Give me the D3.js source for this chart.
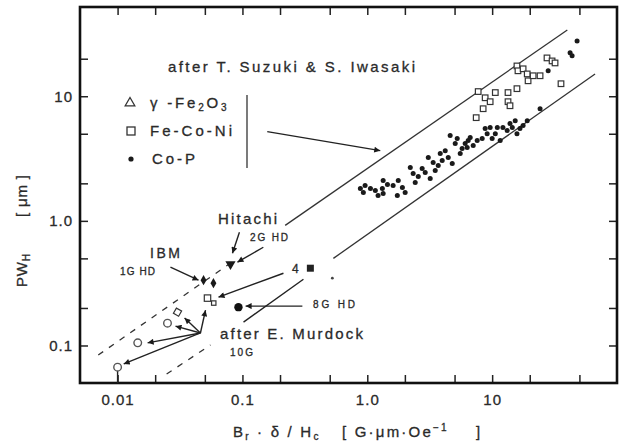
<!DOCTYPE html>
<html>
<head>
<meta charset="utf-8">
<script src="https://cdn.jsdelivr.net/npm/d3@7"></script>
<style>
    body { margin: 0; background: #fff; }
    text { font-family: "Liberation Sans", Arial, sans-serif; fill: #2a2a2a; stroke: #2a2a2a; stroke-width: 0.3; }
</style>
</head>
<body>
<svg id="chart" width="626" height="444"></svg>
<script>

// ticks and tick labels (log axes, both in the same units as the data)
const xTicks = [0.01, 0.02, 0.05, 0.1, 0.2, 0.5, 1, 2, 5, 10, 20, 50];
const xLabelValues = [0.01, 0.1, 1, 10];
const xLabelTexts = ['0.01', '0.1', '1.0', '10'];
const yTicks = [0.1, 0.2, 0.5, 1, 2, 5, 10, 20];
const yLabelValues = [0.1, 1, 10];
const yLabelTexts = ['0.1', '1.0', '10'];

// legend categories (after T. Suzuki & S. Iwasaki)
const categories = ['γ-Fe2O3', 'Fe-Co-Ni', 'Co-P'];

// [Br·δ/Hc, PW_H]
const coP = [
    [0.88, 1.82], [0.93, 1.69], [1.06, 1.82], [1.16, 1.75], [1.32, 1.82], [1.34, 2.11],
    [1.34, 1.66], [1.61, 1.92], [1.77, 2.11], [1.74, 1.60], [1.91, 1.85], [2.21, 2.68],
    [2.33, 2.40], [2.42, 2.03], [2.75, 2.63], [2.91, 2.44], [3.19, 2.19], [3.08, 3.22],
    [3.37, 2.94], [3.70, 2.78], [3.84, 3.47], [3.98, 3.05], [4.45, 3.22], [4.79, 2.88],
    [4.61, 4.83], [5.06, 4.17], [5.25, 4.57], [5.55, 3.47], [6.08, 4.17], [6.43, 4.41],
    [6.31, 3.87], [6.67, 4.66], [7.59, 4.41], [8.32, 4.57], [9.12, 5.01], [9.64, 5.60],
    [10.0, 4.57], [11.0, 5.60], [11.6, 4.41], [12.2, 5.60], [13.9, 6.03], [15.3, 6.37],
    [16.7, 5.50], [19.1, 6.37], [24.2, 7.94], [28.1, 16.0], [42.1, 22.3], [47.9, 27.8],
    [0.96, 1.92], [1.22, 1.60], [1.45, 1.96], [2.01, 1.69], [2.56, 2.27], [3.50, 2.54],
    [4.21, 3.66], [5.75, 3.80], [7.05, 4.02], [8.79, 5.50], [10.6, 5.01], [13.2, 5.30],
    [14.5, 5.60], [15.8, 5.01], [17.7, 5.81], [43.7, 21.1]
];
const feCoNi = [
    [7.73, 10.9], [8.79, 9.72], [9.64, 9.04], [8.47, 7.94], [10.6, 10.7], [13.4, 10.7],
    [15.8, 11.5], [13.4, 9.04], [13.9, 8.39], [15.8, 17.5], [16.1, 16.0], [17.7, 16.6],
    [19.1, 15.1], [19.4, 13.3], [21.3, 14.6], [24.2, 14.6], [27.5, 20.3], [30.2, 19.2],
    [31.9, 18.5], [35.6, 12.6], [7.45, 6.73]
];

// heads (after E. Murdock)
const ibm1G = [[0.0488, 0.334], [0.0586, 0.316]];
const hitachi2G = [[0.0802, 0.449]];
const head4 = [[0.35, 0.417]];
const head8G = [[0.0929, 0.203]];
const openSquares = [[0.0525, 0.24], [0.0589, 0.219]];
const openDiamonds = [[0.0302, 0.185]];
const openCircles = [[0.0251, 0.151], [0.0145, 0.105], [0.01, 0.067]];
const strayDots = [[0.525, 0.347]];

// band lines
const bandUpper = [[0.22, 0.92], [40, 34]];
const bandLower = [[0.535, 0.5], [66.7, 15.1]];
const dashUpper = [[0.007, 0.0838], [0.085, 0.477]];
const dashLower = [[0.0247, 0.059], [0.0555, 0.101]];

// arrows [from, to]
const fanFrom = [0.0461, 0.126];
const fanTo = [[0.0506, 0.192], [0.0344, 0.166], [0.0291, 0.143], [0.0174, 0.105], [0.0112, 0.0711]];
const arrows = [
    [[0.158, 5.2], [1.27, 3.66]],
    [[0.0946, 0.809], [0.0832, 0.55]],
    [[0.147, 0.614], [0.0912, 0.466]],
    [[0.0265, 0.425], [0.0445, 0.334]],
    [[0.213, 0.38], [0.0643, 0.244]],
    [[0.302, 0.207], [0.106, 0.207]]
];
const leader = [[0.308, 0.34], [0.102, 0.154]];


const svg = d3.select('#chart');
const frame = {left: 80, right: 617, top: 7, bottom: 383};

const x = d3.scaleLog().domain([0.005, 100]).range([frame.left, frame.right]);
const y = d3.scaleLog().domain([0.05, 52]).range([frame.bottom, frame.top]);
const line = d3.line().x(d => x(d[0])).y(d => y(d[1]));

svg.append('defs').append('marker')
    .attr('id', 'head')
    .attr('viewBox', '0 0 10 10')
    .attr('refX', 10).attr('refY', 5)
    .attr('markerWidth', 10).attr('markerHeight', 6)
    .attr('markerUnits', 'userSpaceOnUse')
    .attr('orient', 'auto')
    .append('path').attr('d', 'M0,0L10,5L0,10z').attr('fill', '#1a1a1a');

/**
 * label function for ticks that only carry a label at some values
 */
function tickFormatter(values, texts) {
    return (d) => {
        let i = values.indexOf(d);
        return i < 0 ? '' : texts[i];
    };
}

function styleAxis(g) {
    g.select('.domain').remove();
    g.selectAll('.tick line').attr('stroke', '#222').attr('stroke-width', 1.5);
    g.selectAll('.tick text').attr('font-size', 15).attr('letter-spacing', 1)
        .attr('fill', '#333').attr('font-family', '"Liberation Sans", Arial, sans-serif');
}

// axes, ticks pointing inwards on all four sides
svg.append('g').attr('transform', `translate(0,${frame.bottom})`)
    .call(d3.axisBottom(x).tickValues(xTicks).tickSizeInner(-8).tickSizeOuter(0)
        .tickPadding(11).tickFormat(tickFormatter(xLabelValues, xLabelTexts)))
    .call(styleAxis);
svg.append('g').attr('transform', `translate(0,${frame.top})`)
    .call(d3.axisTop(x).tickValues(xTicks).tickSizeInner(-8).tickSizeOuter(0).tickFormat(''))
    .call(styleAxis);
svg.append('g').attr('transform', `translate(${frame.left},0)`)
    .call(d3.axisLeft(y).tickValues(yTicks).tickSizeInner(-8).tickSizeOuter(0)
        .tickPadding(7).tickFormat(tickFormatter(yLabelValues, yLabelTexts)))
    .call(styleAxis);
svg.append('g').attr('transform', `translate(${frame.right},0)`)
    .call(d3.axisRight(y).tickValues(yTicks).tickSizeInner(-8).tickSizeOuter(0).tickFormat(''))
    .call(styleAxis);

svg.append('rect')
    .attr('x', frame.left).attr('y', frame.top)
    .attr('width', frame.right - frame.left).attr('height', frame.bottom - frame.top)
    .attr('fill', 'none').attr('stroke', '#111').attr('stroke-width', 2.6);

// axis titles
let xt = svg.append('text').attr('x', 233).attr('y', 437).attr('font-size', 15).attr('letter-spacing', 2.2);
xt.append('tspan').text('B');
xt.append('tspan').attr('font-size', 10).attr('dy', 3).text('r');
xt.append('tspan').attr('dy', -3).text(' · δ / H');
xt.append('tspan').attr('font-size', 10).attr('dy', 3).text('c');
xt.append('tspan').attr('dy', -3).attr('x', 342).text('[ G·μm·Oe');
xt.append('tspan').attr('font-size', 10).attr('dy', -6).text('−1');
xt.append('tspan').attr('dy', 6).attr('x', 476).text(']');

let yt = svg.append('text').attr('transform', 'translate(27,287) rotate(-90)')
    .attr('font-size', 15).attr('letter-spacing', 0.8);
yt.append('tspan').text('PW');
yt.append('tspan').attr('font-size', 10).attr('dy', 3).text('H');
yt.append('tspan').attr('dy', -3).attr('x', 70).text('[ μm ]');

// band lines
const lines = svg.append('g').attr('fill', 'none').attr('stroke', '#333').attr('stroke-width', 1.3);
lines.append('path').attr('d', line(bandUpper));
lines.append('path').attr('d', line(bandLower));
lines.append('path').attr('d', line(dashUpper)).attr('stroke-dasharray', '6,7');
lines.append('path').attr('d', line(dashLower)).attr('stroke-dasharray', '6,7');

// arrows
const arr = svg.append('g').attr('stroke', '#222').attr('stroke-width', 1.4).attr('fill', 'none');
arr.selectAll('.arrow').data(arrows).enter().append('path')
    .attr('d', d => line(d)).attr('marker-end', 'url(#head)');
arr.selectAll('.fan').data(fanTo).enter().append('path')
    .attr('d', d => line([fanFrom, d])).attr('marker-end', 'url(#head)');
arr.append('path').attr('d', line(leader));
arr.append('path').attr('d', line([openCircles[2], [openCircles[2][0], 0.05]]));

// data points
const pts = svg.append('g');
pts.selectAll('.coP').data(coP).enter().append('circle')
    .attr('cx', d => x(d[0])).attr('cy', d => y(d[1])).attr('r', 2.5).attr('fill', '#1a1a1a');
pts.selectAll('.feCoNi').data(feCoNi).enter().append('rect')
    .attr('x', d => x(d[0]) - 2.8).attr('y', d => y(d[1]) - 2.8)
    .attr('width', 5.6).attr('height', 5.6)
    .attr('fill', '#fff').attr('stroke', '#333').attr('stroke-width', 1.2);

const sym = (type, size) => d3.symbol().type(type).size(size)();
pts.selectAll('.ibm').data(ibm1G).enter().append('path')
    .attr('transform', d => `translate(${x(d[0])},${y(d[1])})`)
    .attr('d', sym(d3.symbolDiamond, 30)).attr('fill', '#1a1a1a');
pts.selectAll('.hitachi').data(hitachi2G).enter().append('path')
    .attr('transform', d => `translate(${x(d[0])},${y(d[1])}) rotate(180)`)
    .attr('d', sym(d3.symbolTriangle, 45)).attr('fill', '#1a1a1a');
pts.selectAll('.h4').data(head4).enter().append('rect')
    .attr('x', d => x(d[0]) - 3.5).attr('y', d => y(d[1]) - 3.5)
    .attr('width', 7).attr('height', 7).attr('fill', '#222');
pts.selectAll('.h8').data(head8G).enter().append('circle')
    .attr('cx', d => x(d[0])).attr('cy', d => y(d[1])).attr('r', 4.2).attr('fill', '#111');
pts.selectAll('.osq').data(openSquares).enter().append('rect')
    .attr('x', (d, i) => x(d[0]) - (i ? 2.2 : 3.2)).attr('y', (d, i) => y(d[1]) - (i ? 2.2 : 3.2))
    .attr('width', (d, i) => i ? 4.4 : 6.4).attr('height', (d, i) => i ? 4.4 : 6.4)
    .attr('fill', '#fff').attr('stroke', '#333').attr('stroke-width', 1.2);
pts.selectAll('.odia').data(openDiamonds).enter().append('path')
    .attr('transform', d => `translate(${x(d[0])},${y(d[1])}) rotate(30)`)
    .attr('d', sym(d3.symbolSquare, 36)).attr('fill', '#fff').attr('stroke', '#333').attr('stroke-width', 1.2);
pts.selectAll('.ocir').data(openCircles).enter().append('circle')
    .attr('cx', d => x(d[0])).attr('cy', d => y(d[1])).attr('r', 3.8)
    .attr('fill', '#fff').attr('stroke', '#555').attr('stroke-width', 1.4);
pts.selectAll('.stray').data(strayDots).enter().append('circle')
    .attr('cx', d => x(d[0])).attr('cy', d => y(d[1])).attr('r', 1.4).attr('fill', '#444');

// legend
svg.append('text').attr('x', 168).attr('y', 72).attr('font-size', 15)
    .attr('textLength', 247).attr('lengthAdjust', 'spacing').text('after T. Suzuki & S. Iwasaki');

const legend = svg.append('g');
const legendY = [103, 131, 159];
legend.append('path').attr('transform', `translate(130,${legendY[0]})`)
    .attr('d', sym(d3.symbolTriangle, 40)).attr('fill', 'none').attr('stroke', '#333').attr('stroke-width', 1.3);
legend.append('rect').attr('x', 127).attr('y', legendY[1] - 4).attr('width', 8).attr('height', 8)
    .attr('fill', 'none').attr('stroke', '#333').attr('stroke-width', 1.3);
legend.append('circle').attr('cx', 131).attr('cy', legendY[2]).attr('r', 2.6).attr('fill', '#1a1a1a');

let lt = legend.append('text').attr('x', 150).attr('y', legendY[0] + 5).attr('font-size', 15).attr('letter-spacing', 2.8);
lt.append('tspan').text('γ -Fe');
lt.append('tspan').attr('font-size', 10).attr('dy', 3).text('2');
lt.append('tspan').attr('dy', -3).text('O');
lt.append('tspan').attr('font-size', 10).attr('dy', 3).text('3');
legend.append('text').attr('x', 150).attr('y', legendY[1] + 5).attr('font-size', 15)
    .attr('textLength', 82).attr('lengthAdjust', 'spacing').text(categories[1]);
legend.append('text').attr('x', 152).attr('y', legendY[2] + 5).attr('font-size', 15)
    .attr('textLength', 43).attr('lengthAdjust', 'spacing').text(categories[2]);
legend.append('line').attr('x1', 247).attr('x2', 247).attr('y1', 95).attr('y2', 168)
    .attr('stroke', '#333').attr('stroke-width', 1.3);

// head annotations
const note = (t, px, py, size, len) => {
    let el = svg.append('text').attr('x', px).attr('y', py).attr('font-size', size).text(t);
    if (len) el.attr('textLength', len).attr('lengthAdjust', 'spacing');
    return el;
};
note('Hitachi', 218, 224, 15, 59);
note('2G HD', 250, 241, 10, 38);
note('IBM', 150, 258, 14, 30);
note('1G HD', 120, 275, 10, 35);
note('4', 292, 273, 12);
note('8G HD', 313, 308, 10, 42);
note('after E. Murdock', 220, 339, 15, 143);
note('10G', 230, 356, 10, 23);

</script>
</body>
</html>
